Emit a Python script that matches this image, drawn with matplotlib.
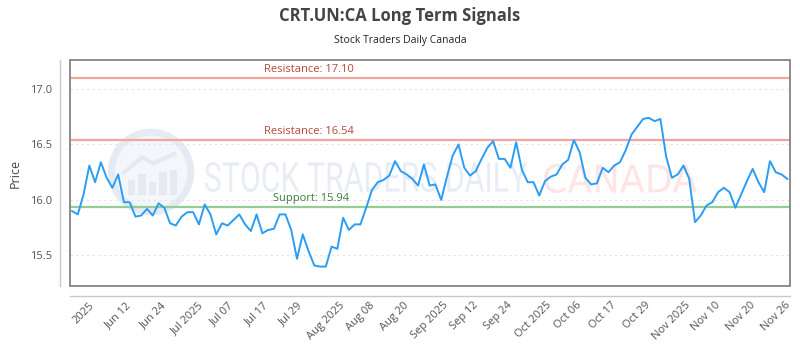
import numpy as np
import matplotlib
matplotlib.use("Agg")
import matplotlib.pyplot as plt
from matplotlib.patches import Rectangle, Circle, PathPatch, Polygon
from matplotlib.textpath import TextPath
from matplotlib.font_manager import FontProperties
from matplotlib.transforms import Affine2D

# --------------------------
# Data
# --------------------------
prices = [
    15.90, 15.87, 16.05, 16.31, 16.16, 16.34, 16.20, 16.11, 16.23, 15.98,
    15.98, 15.85, 15.86, 15.92, 15.86, 15.97, 15.93, 15.79, 15.77, 15.85,
    15.89, 15.89, 15.78, 15.96, 15.87, 15.69, 15.79, 15.77, 15.82, 15.87,
    15.78, 15.72, 15.87, 15.70, 15.73, 15.74, 15.87, 15.87, 15.73, 15.47,
    15.69, 15.54, 15.41, 15.40, 15.40, 15.58, 15.56, 15.84, 15.73, 15.78,
    15.78, 15.93, 16.09, 16.16, 16.18, 16.22, 16.35, 16.26, 16.23, 16.19,
    16.13, 16.32, 16.13, 16.14, 16.00, 16.21, 16.40, 16.50, 16.29, 16.22,
    16.26, 16.37, 16.47, 16.53, 16.37, 16.37, 16.29, 16.52, 16.27, 16.16,
    16.16, 16.04, 16.17, 16.21, 16.23, 16.32, 16.36, 16.54, 16.43, 16.20,
    16.14, 16.15, 16.29, 16.25, 16.31, 16.34, 16.45, 16.59, 16.66, 16.73,
    16.74, 16.71, 16.73, 16.39, 16.20, 16.23, 16.31, 16.19, 15.80, 15.86,
    15.95, 15.98, 16.07, 16.11, 16.07, 15.93, 16.05, 16.17, 16.28, 16.16,
    16.07, 16.35, 16.25, 16.23, 16.19,
]
tick_labels = ['2025', 'Jun 12', 'Jun 24', 'Jul 2025', 'Jul 07', 'Jul 17', 'Jul 29',
               'Aug 2025', 'Aug 08', 'Aug 20', 'Sep 2025', 'Sep 12', 'Sep 24',
               'Oct 2025', 'Oct 06', 'Oct 17', 'Oct 29', 'Nov 2025', 'Nov 10',
               'Nov 20', 'Nov 26']
tick_pos = list(range(2, 2 + 6 * len(tick_labels), 6))
resistance_levels = [17.10, 16.54]
support_levels = [15.94]

plt.rcParams['font.family'] = ['Open Sans', 'DejaVu Sans']

fig = plt.figure(figsize=(8, 3.5), dpi=100)
W, H = 800.0, 350.0

# --------------------------
# Watermark logo (behind everything)
# --------------------------
lax = fig.add_axes([(151 - 44) / W, 1 - (172 + 44) / H, 88 / W, 88 / H])
lax.set_zorder(0)
lax.set_xlim(-1.05, 1.05)
lax.set_ylim(-1.05, 1.05)
lax.axis('off')
lax.add_patch(Circle((0, 0), 0.95, facecolor='#f3f6fa', edgecolor='#e6ebf3', lw=5))
for bx, bh in [(-0.55, 0.35), (-0.3, 0.5), (-0.05, 0.3), (0.2, 0.55), (0.45, 0.6)]:
    lax.add_patch(Rectangle((bx, -0.55), 0.18, bh, facecolor='#e6e9ef', edgecolor='none'))
lax.add_patch(Polygon([(-0.7, -0.05), (-0.2, 0.35), (0.05, 0.2), (0.6, 0.45)],
                      closed=False, fill=False, edgecolor='#e6e9ef', lw=3))

# --------------------------
# Main axes
# --------------------------
ax = fig.add_axes([70 / W, 1 - 286 / H, 720 / W, 226 / H])
ax.set_zorder(1)
ax.patch.set_alpha(0)

def wm_text(s, left, base, width, height, color, family):
    tp = TextPath((0, 0), s, size=1, prop=FontProperties(family=family))
    ext = tp.get_extents()
    tr = (Affine2D().translate(-ext.x0, -ext.y0)
          .scale(width / W / ext.width, height / H / ext.height)
          .translate(left / W, 1 - base / H) + fig.transFigure)
    ax.add_patch(PathPatch(tp, transform=tr, facecolor=color, edgecolor='none',
                           zorder=0.5, clip_on=False))

wm_text('STOCK TRADERS DAILY', 205, 192, 322, 30, '#e8ecf4', 'Roboto')
wm_text('CANADA', 544, 193, 153, 29, '#fde5e5', 'DejaVu Sans')

x = np.arange(len(prices))
ax.plot(x, prices, color='#2a9df4', lw=1.4, zorder=4)

for lvl in resistance_levels:
    ax.axhline(lvl, color='#f4a39d', lw=1.6, zorder=3)
    ax.text(41, lvl + 0.025, f'Resistance: {lvl:.2f}', color='#b5453a',
            fontsize=8, ha='center', va='bottom', zorder=5)
for lvl in support_levels:
    ax.axhline(lvl, color='#95cc95', lw=1.6, zorder=3)
    ax.text(41.5, lvl + 0.025, f'Support: {lvl:.2f}', color='#3b7d3b',
            fontsize=8, ha='center', va='bottom', zorder=5)

ax.set_xlim(-0.35, len(prices) - 1 + 0.47)
ax.set_ylim(15.225, 17.261)
ax.set_yticks([15.5, 16.0, 16.5, 17.0])
ax.set_xticks(tick_pos)
ax.set_xticklabels(tick_labels)
ax.grid(axis='y', color='#e3e3e3', linestyle=(0, (2, 3)), lw=0.8)
ax.grid(axis='x', visible=False)

ax.tick_params(axis='both', length=0, labelsize=8, labelcolor='#555555')
ax.tick_params(axis='y', pad=5.5)
ax.tick_params(axis='x', pad=3, labelrotation=45)
plt.setp(ax.get_xticklabels(), ha='right', rotation_mode='default')
ax.set_ylabel('Price', fontsize=9, color='#444444', labelpad=6)

for side in ['top', 'right']:
    ax.spines[side].set_visible(False)
for side in ['left', 'bottom']:
    ax.spines[side].set_position(('outward', 7))
    ax.spines[side].set_color('#c8c8c8')
    ax.spines[side].set_linewidth(1)
ax.add_patch(Rectangle((0, 0), 1, 1, transform=ax.transAxes, fill=False,
                       edgecolor='#7a7a7a', lw=1.2, clip_on=False, zorder=6))

fig.text(0.5, 1 - 16 / H, 'CRT.UN:CA Long Term Signals', ha='center', va='center',
         fontsize=12, fontweight='bold', color='#444444')
fig.text(0.5, 1 - 41 / H, 'Stock Traders Daily Canada', ha='center', va='center',
         fontsize=7.5, color='#222222')

fig.savefig('out.png', dpi=100, facecolor='white')
